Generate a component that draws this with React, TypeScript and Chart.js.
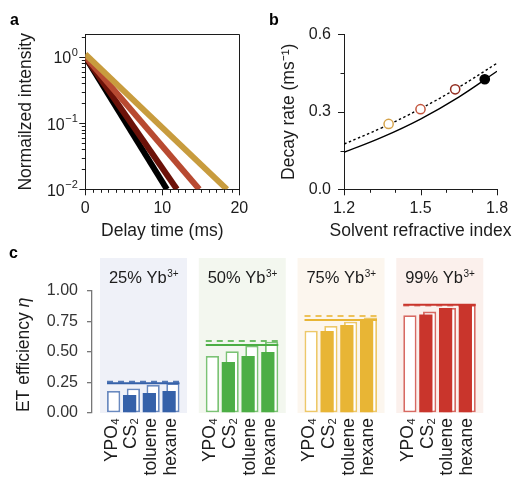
import React, { useEffect, useRef } from 'react';
import { Chart, registerables } from 'chart.js';

Chart.register(...registerables);

const FONT = "'Liberation Sans', Arial, Helvetica, sans-serif";
const INK = '#1c1c1c';
Chart.defaults.font.family = FONT;

// ---------- Panel a: luminescence decays ----------
const decayNames = ['hexane', 'toluene', 'CS2', 'YPO4'];
const decayColors = ['#c89c3e', '#b84a31', '#6c1209', '#000000'];
const decayTimes = [[0, 18.4], [0, 14.8], [0, 11.9], [0, 10.6]];
const decayValues = [[1.1, 0.01], [1.02, 0.01], [1.0, 0.01], [1.0, 0.01]];
const aXTicks = [0, 10, 20];
const aYTicks = [1, 0.1, 0.01];
const aYExponents = ['0', '\u22121', '\u22122'];

// ---------- Panel b: decay rate vs refractive index ----------
const pointN = [1.375, 1.5, 1.636, 1.752];
const pointK = [0.253, 0.31, 0.387, 0.426];
const pointColors = ['#d6a44c', '#c3553d', '#922d20', '#000000'];
const pointFill = ['#ffffff', '#ffffff', '#ffffff', '#000000'];
const curveN = [1.2, 1.35, 1.5, 1.65, 1.8];
const curveSolid = [0.143, 0.202, 0.272, 0.357, 0.457];
const curveDotted = [0.175, 0.239, 0.312, 0.395, 0.488];
const bXTicks = [1.2, 1.5, 1.8];
const bXMinor = [1.3, 1.4, 1.6, 1.7];
const bYTicks = [0, 0.3, 0.6];
const bYMinor = [0.15, 0.45];

// ---------- Panel c: ET efficiency ----------
const solvents = ['YPO\u2084', 'CS\u2082', 'toluene', 'hexane'];
const dopings = ['25', '50', '75', '99'];
const groupColors = ['#3561a9', '#4cae45', '#e8b535', '#c9352c'];
const groupOpen = ['rgba(53,97,169,0.72)', 'rgba(76,174,69,0.72)', 'rgba(232,181,53,0.72)', 'rgba(201,53,44,0.72)'];
const groupDash = ['rgba(53,97,169,0.85)', 'rgba(76,174,69,0.8)', 'rgba(232,181,53,0.8)', 'rgba(201,53,44,0.6)'];
const groupBg = ['#eff1f8', '#f3f7ef', '#fcf6ee', '#fbf0ec'];
const effMeasured = [
  [null, 0.147, 0.163, 0.18],
  [null, 0.417, 0.466, 0.499],
  [null, 0.671, 0.719, 0.76],
  [null, 0.806, 0.858, 0.886],
];
const effOpen = [
  [0.18, 0.2, 0.229, 0.243],
  [0.466, 0.505, 0.55, 0.583],
  [0.673, 0.711, 0.746, 0.78],
  [0.8, 0.829, 0.858, 0.886],
];
const effSolid = [0.243, 0.556, 0.76, 0.886];
const effDashed = [0.256, 0.589, 0.793, 0.88];
const cYTicks = [0, 0.25, 0.5, 0.75, 1];

// build category table for panel c
const catLabels: string[] = [''];
const filledData: (number | null)[] = [null];
const openData: (number | null)[] = [null];
const filledColors: string[] = ['#000'];
const openColors: string[] = ['#000'];
dopings.forEach((_, g) => {
  solvents.forEach((s, k) => {
    catLabels.push(s);
    filledData.push(effMeasured[g][k]);
    openData.push(effOpen[g][k]);
    filledColors.push(groupColors[g]);
    openColors.push(groupOpen[g]);
  });
  catLabels.push('');
  filledData.push(null);
  openData.push(null);
  filledColors.push('#000');
  openColors.push('#000');
});

function seg(ctx: CanvasRenderingContext2D, x1: number, y1: number, x2: number, y2: number) {
  ctx.beginPath();
  ctx.moveTo(x1, y1);
  ctx.lineTo(x2, y2);
  ctx.stroke();
}
const snap = (v: number) => Math.round(v) + 0.5;

function panelLetter(ctx: CanvasRenderingContext2D, t: string, x: number, y: number) {
  ctx.save();
  ctx.font = `bold 16px ${FONT}`;
  ctx.fillStyle = '#000';
  ctx.textAlign = 'left';
  ctx.textBaseline = 'alphabetic';
  ctx.fillText(t, x, y);
  ctx.restore();
}

const pluginA = {
  id: 'panelA',
  afterDraw(chart: any) {
    const { ctx, chartArea: ca, scales } = chart;
    const x = scales.x, y = scales.y;
    ctx.save();
    ctx.strokeStyle = INK;
    ctx.lineWidth = 1;
    seg(ctx, ca.left, snap(ca.top), ca.right, snap(ca.top));
    seg(ctx, snap(ca.right), ca.top, snap(ca.right), ca.bottom);
    for (let t = 0; t <= 20; t++) {
      const px = snap(x.getPixelForValue(t));
      seg(ctx, px, ca.bottom, px, ca.bottom + (t % 10 === 0 ? 6 : 3.5));
    }
    for (let d = -2; d <= 0; d++) {
      for (let m = 1; m <= 9; m++) {
        const v = m * Math.pow(10, d);
        if (v > y.max) continue;
        const py = snap(y.getPixelForValue(v));
        seg(ctx, ca.left, py, ca.left - (m === 1 ? 6 : 3.5), py);
      }
    }
    ctx.fillStyle = INK;
    ctx.textBaseline = 'middle';
    aYTicks.forEach((v, i) => {
      const py = y.getPixelForValue(v);
      ctx.font = `11px ${FONT}`;
      const ew = ctx.measureText(aYExponents[i]).width;
      const right = ca.left - 8 - ew;
      ctx.font = `16px ${FONT}`;
      ctx.textAlign = 'right';
      ctx.fillText('10', right, py + 2);
      ctx.font = `11px ${FONT}`;
      ctx.textAlign = 'left';
      ctx.fillText(aYExponents[i], right + 0.5, py - 4);
    });
    ctx.restore();
    panelLetter(ctx, 'a', 10, 25);
  },
};

const pluginB = {
  id: 'panelB',
  afterDraw(chart: any) {
    const { ctx, chartArea: ca, scales } = chart;
    const x = scales.x, y = scales.y;
    ctx.save();
    ctx.strokeStyle = INK;
    ctx.lineWidth = 1;
    bXTicks.forEach((v) => { const px = snap(x.getPixelForValue(v)); seg(ctx, px, ca.bottom, px, ca.bottom + 6); });
    bXMinor.forEach((v) => { const px = snap(x.getPixelForValue(v)); seg(ctx, px, ca.bottom, px, ca.bottom + 3.5); });
    bYTicks.forEach((v) => { const py = snap(y.getPixelForValue(v)); seg(ctx, ca.left, py, ca.left - 6, py); });
    bYMinor.forEach((v) => { const py = snap(y.getPixelForValue(v)); seg(ctx, ca.left, py, ca.left - 3.5, py); });
    // x-axis title (drawn here so it is not squeezed to the axis width)
    ctx.fillStyle = INK;
    ctx.font = `17.5px ${FONT}`;
    ctx.textAlign = 'center';
    ctx.textBaseline = 'middle';
    ctx.fillText('Solvent refractive index', (ca.left + ca.right) / 2, 231.5);
    ctx.restore();
    panelLetter(ctx, 'b', 269, 25);
  },
};

const pluginC = {
  id: 'panelC',
  beforeDraw(chart: any) {
    const { ctx, chartArea: ca } = chart;
    const meta = chart.getDatasetMeta(1);
    ctx.save();
    dopings.forEach((_, g) => {
      const s = 1 + g * 5;
      const a = meta.data[s], b = meta.data[s + 3];
      const l = a.x - a.width / 2 - 7;
      const r = b.x + b.width / 2 + 7.5;
      ctx.fillStyle = groupBg[g];
      ctx.fillRect(l, ca.top - 32.7, r - l, ca.bottom - ca.top + 32.7);
    });
    ctx.restore();
  },
  afterDatasetsDraw(chart: any) {
    const { ctx, chartArea: ca, scales } = chart;
    const y = scales.y;
    const meta = chart.getDatasetMeta(1);
    ctx.save();
    dopings.forEach((d, g) => {
      const s = 1 + g * 5;
      const a = meta.data[s], b = meta.data[s + 3];
      const l = a.x - a.width / 2;
      const r = b.x + b.width / 2;
      ctx.lineWidth = 2;
      ctx.strokeStyle = groupDash[g];
      ctx.setLineDash([6, 5]);
      const yd = y.getPixelForValue(effDashed[g]);
      seg(ctx, l, yd, r, yd);
      ctx.setLineDash([]);
      ctx.strokeStyle = groupColors[g];
      const ys = y.getPixelForValue(effSolid[g]);
      seg(ctx, l, ys, r, ys);
      // sub-panel title
      const cx = (a.x - a.width / 2 - 7 + b.x + b.width / 2 + 7.5) / 2;
      const base = `${d}% Yb`;
      ctx.fillStyle = INK;
      ctx.textBaseline = 'alphabetic';
      ctx.font = `16.5px ${FONT}`;
      const w1 = ctx.measureText(base).width;
      ctx.font = `10px ${FONT}`;
      const w2 = ctx.measureText('3+').width;
      const x0 = cx - (w1 + w2) / 2;
      const by = ca.top - 8;
      ctx.font = `16.5px ${FONT}`;
      ctx.textAlign = 'left';
      ctx.fillText(base, x0, by);
      ctx.font = `10px ${FONT}`;
      ctx.fillText('3+', x0 + w1 + 0.5, by - 6);
    });
    ctx.restore();
  },
  afterDraw(chart: any) {
    const { ctx, chartArea: ca } = chart;
    ctx.save();
    ctx.translate(24, (ca.top + ca.bottom) / 2 + 3);
    ctx.rotate(-Math.PI / 2);
    ctx.fillStyle = INK;
    ctx.textBaseline = 'middle';
    ctx.textAlign = 'left';
    const f1 = `17.5px ${FONT}`;
    const f2 = `italic 17.5px ${FONT}`;
    ctx.font = f1;
    const w1 = ctx.measureText('ET efficiency ').width;
    ctx.font = f2;
    const w2 = ctx.measureText('\u03b7').width;
    const x0 = -(w1 + w2) / 2;
    ctx.font = f1;
    ctx.fillText('ET efficiency ', x0, 0);
    ctx.font = f2;
    ctx.fillText('\u03b7', x0 + w1, 0);
    ctx.restore();
    panelLetter(ctx, 'c', 9, 257.5);
  },
};

const baseOpts = {
  responsive: false,
  animation: false as const,
  events: [] as any[],
  plugins: { legend: { display: false }, tooltip: { enabled: false } },
};

export default function App() {
  const refA = useRef<HTMLCanvasElement>(null);
  const refB = useRef<HTMLCanvasElement>(null);
  const refC = useRef<HTMLCanvasElement>(null);

  useEffect(() => {
    const tickFont = { family: FONT, size: 16 };
    const titleFont = { family: FONT, size: 17.5 };

    const chartA = new Chart(refA.current!, {
      type: 'line',
      data: {
        datasets: decayNames.map((n, i) => ({
          label: n,
          data: decayTimes[i].map((t, j) => ({ x: t, y: decayValues[i][j] })),
          borderColor: decayColors[i],
          borderWidth: 6,
          borderCapStyle: 'butt',
          pointRadius: 0,
          fill: false,
          clip: 0,
        })),
      },
      options: {
        ...baseOpts,
        layout: { padding: { left: 0, top: 34.3, right: 513 - 239.3, bottom: 478 - 250 } },
        scales: {
          x: {
            type: 'linear', min: 0, max: 20,
            afterBuildTicks: (s: any) => { s.ticks = aXTicks.map((v) => ({ value: v })); },
            afterFit: (s: any) => { s.height = 250 - 189.3; },
            border: { color: INK, width: 1 },
            grid: { drawOnChartArea: false, tickLength: 7, tickColor: 'rgba(0,0,0,0)' },
            ticks: { color: INK, font: tickFont, padding: 3, maxRotation: 0 },
            title: { display: true, text: 'Delay time (ms)', color: INK, font: titleFont, padding: { top: 0, bottom: 8 } },
          },
          y: {
            type: 'logarithmic', min: 0.01, max: 2.2,
            afterBuildTicks: (s: any) => { s.ticks = aYTicks.map((v) => ({ value: v })); },
            afterFit: (s: any) => { s.width = 85.3; },
            border: { color: INK, width: 1 },
            grid: { drawOnChartArea: false, drawTicks: false },
            ticks: { display: false },
            title: { display: true, text: 'Normailzed intensity', color: INK, font: titleFont, padding: { top: 15.5, bottom: 0 } },
          },
        },
      } as any,
      plugins: [pluginA],
    });

    const chartB = new Chart(refB.current!, {
      type: 'line',
      data: {
        datasets: [
          {
            label: 'measured',
            data: pointN.map((n, i) => ({ x: n, y: pointK[i] })),
            showLine: false,
            pointRadius: 4.6,
            pointBorderWidth: 1.5,
            pointBorderColor: pointColors,
            pointBackgroundColor: pointFill,
            clip: false,
          },
          {
            label: 'dotted',
            data: curveN.map((n, i) => ({ x: n, y: curveDotted[i] })),
            borderColor: '#000', borderWidth: 1.4, borderDash: [2.5, 2.5],
            pointRadius: 0, tension: 0.4, fill: false,
          },
          {
            label: 'solid',
            data: curveN.map((n, i) => ({ x: n, y: curveSolid[i] })),
            borderColor: '#000', borderWidth: 1.4,
            pointRadius: 0, tension: 0.4, fill: false,
          },
        ],
      },
      options: {
        ...baseOpts,
        layout: { padding: { left: 265, top: 34.3, right: 513 - 497, bottom: 478 - 250 } },
        scales: {
          x: {
            type: 'linear', min: 1.2, max: 1.8,
            afterBuildTicks: (s: any) => { s.ticks = bXTicks.map((v) => ({ value: v })); },
            afterFit: (s: any) => { s.height = 250 - 189.3; },
            border: { color: INK, width: 1 },
            grid: { drawOnChartArea: false, tickLength: 7, tickColor: 'rgba(0,0,0,0)' },
            ticks: { color: INK, font: tickFont, padding: 3, maxRotation: 0, callback: (v: any) => Number(v).toFixed(1) },
            title: { display: false },
          },
          y: {
            type: 'linear', min: 0, max: 0.6,
            afterBuildTicks: (s: any) => { s.ticks = bYTicks.map((v) => ({ value: v })); },
            afterFit: (s: any) => { s.width = 344 - 265; },
            border: { color: INK, width: 1 },
            grid: { drawOnChartArea: false, tickLength: 7, tickColor: 'rgba(0,0,0,0)' },
            ticks: { color: INK, font: tickFont, padding: 6, callback: (v: any) => Number(v).toFixed(1) },
            title: { display: true, text: 'Decay rate (ms\u207b\u00b9)', color: INK, font: titleFont, padding: { top: 13.5, bottom: 0 } },
          },
        },
      } as any,
      plugins: [pluginB],
    });

    const chartC = new Chart(refC.current!, {
      type: 'bar',
      data: {
        labels: catLabels,
        datasets: [
          {
            label: 'solvent',
            data: filledData,
            backgroundColor: filledColors,
            borderWidth: 0,
            categoryPercentage: 0.383,
            barPercentage: 3.5,
          },
          {
            label: 'reference',
            data: openData,
            backgroundColor: '#ffffff',
            borderColor: openColors,
            borderWidth: 1.8,
            borderSkipped: false,
            categoryPercentage: 0.383,
            barPercentage: 3.5,
          },
        ],
      },
      options: {
        ...baseOpts,
        layout: { padding: { left: 0, top: 290.7, right: 3, bottom: 0 } },
        scales: {
          x: {
            type: 'category',
            offset: false,
            afterFit: (s: any) => { s.height = 65; },
            grid: { display: false, drawTicks: false },
            border: { display: false },
            ticks: { autoSkip: false, minRotation: 90, maxRotation: 90, padding: 5, color: INK, font: { family: FONT, size: 17.5 } },
          },
          y: {
            type: 'linear', min: 0, max: 1,
            afterBuildTicks: (s: any) => { s.ticks = cYTicks.map((v) => ({ value: v })); },
            afterFit: (s: any) => { s.width = 92; },
            border: { color: '#777777', width: 1.3 },
            grid: { drawOnChartArea: false, tickLength: 5, color: '#777777', lineWidth: 1.3 },
            ticks: { color: '#333333', font: tickFont, padding: 9, callback: (v: any) => Number(v).toFixed(2) },
          },
        },
      } as any,
      plugins: [pluginC],
    });

    return () => {
      chartA.destroy();
      chartB.destroy();
      chartC.destroy();
    };
  }, []);

  const cs: React.CSSProperties = { position: 'absolute', left: 0, top: 0, width: 513, height: 478 };
  return (
    <div style={{ position: 'fixed', left: 0, top: 0, width: 513, height: 478, background: '#ffffff', overflow: 'hidden' }}>
      <canvas ref={refA} width={513} height={478} style={cs} />
      <canvas ref={refB} width={513} height={478} style={cs} />
      <canvas ref={refC} width={513} height={478} style={cs} />
    </div>
  );
}
